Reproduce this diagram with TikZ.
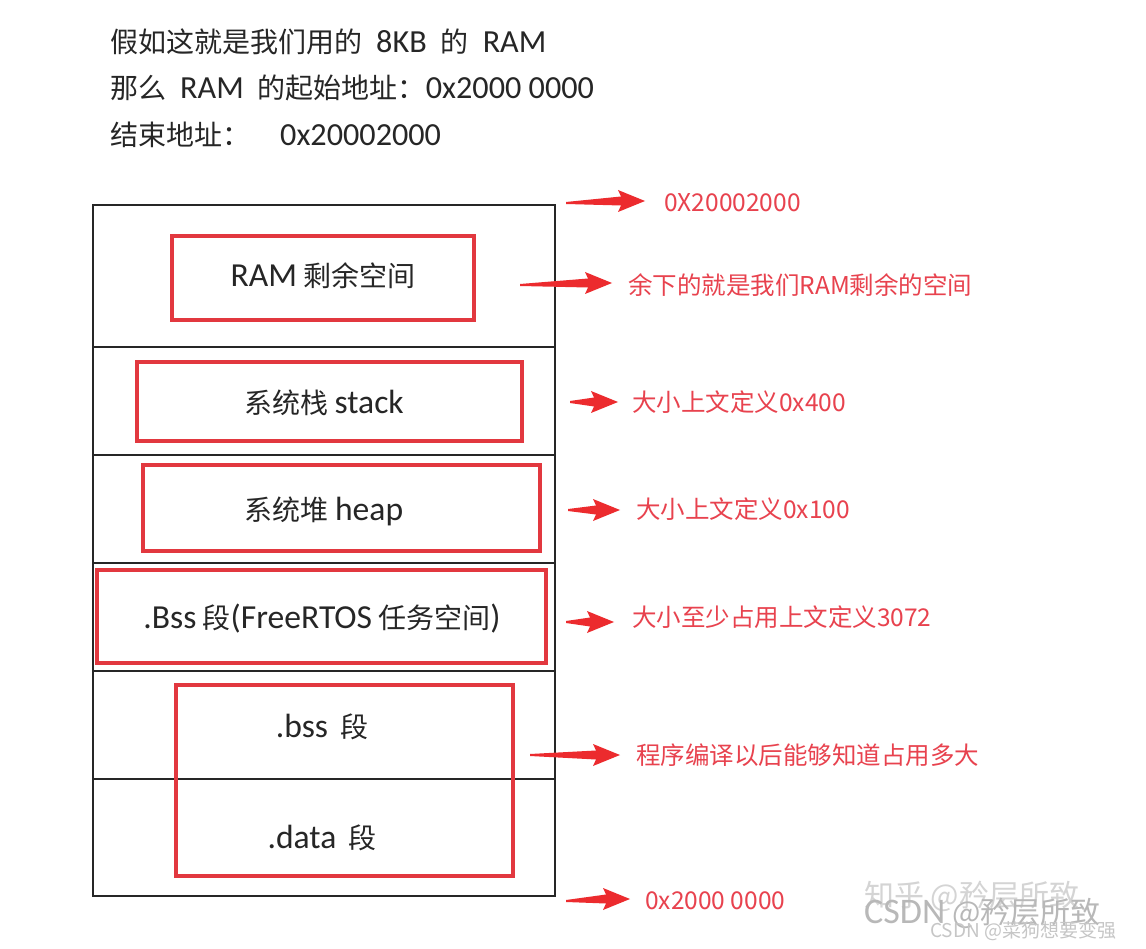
\documentclass[tikz,border=0pt]{standalone}
\usepackage{fontspec}
\setmainfont{Noto Sans CJK SC}
\newfontfamily\lat{Carlito}[Scale=1.2]
\newfontfamily\lathead{Carlito}[Scale=1.15]
\usetikzlibrary{calc,positioning}
\definecolor{memRed}{HTML}{E2383F}
\definecolor{noteRed}{HTML}{E8424E}
\definecolor{arrowRed}{HTML}{EC2B2E}
\definecolor{textMain}{HTML}{262626}
\definecolor{markGray}{HTML}{B8B8B8}

% tapered red arrow from #1 to #2
\newcommand{\redarrow}[2]{%
  \fill[arrowRed] ($(#1)+(0,-1)$) -- ($(#2)+(-24,-4.5)$) -- ($(#2)+(-27,-11)$) -- (#2)
    -- ($(#2)+(-27,11)$) -- ($(#2)+(-24,4.5)$) -- ($(#1)+(0,1)$) -- cycle;}

\begin{document}
\begin{tikzpicture}[x=1pt, y=-1pt,
    region/.style={draw=memRed, line width=4pt, inner sep=0pt},
    boxtext/.style={text=textMain, font=\fontsize{28}{30}\selectfont, inner sep=0pt},
    headline/.style={text=textMain, anchor=west, font=\fontsize{28}{30}\selectfont, inner sep=0pt},
    note/.style={text=noteRed, anchor=west, font=\fontsize{24.5}{26}\selectfont, inner sep=0pt},
    frame/.style={draw=black!85, line width=1.3pt},
]
    \useasboundingbox[fill=white] (0,0) rectangle (1146,949);

    % heading
    \node[headline] (h1) at (110,42) {假如这就是我们用的\hspace{14pt}{\lathead 8KB}\hspace{14pt}的\hspace{14pt}{\lathead RAM}};
    \node[headline] (h2) at (110,88) {那么\hspace{14pt}{\lathead RAM}\hspace{14pt}的起始地址：{\lathead 0x2000 0000}};
    \node[headline] (h3) at (110,135) {结束地址：\hspace{30pt}{\lathead 0x20002000}};

    % memory map
    \draw[frame] (93,205) rectangle (555,896);
    \foreach \y in {347,455,563,671,779}
        \draw[frame] (93,\y) -- (555,\y);

    \node[region, minimum width=302pt, minimum height=84pt] (remain) at (323,278) {};
    \node[region, minimum width=385pt, minimum height=79pt] (stack) at (329.5,401.5) {};
    \node[region, minimum width=397pt, minimum height=86pt] (heap) at (341.5,508) {};
    \node[region, minimum width=449pt, minimum height=93pt] (rtos) at (321.5,616.5) {};
    \node[region, minimum width=337pt, minimum height=191pt] (bssdata) at (344.5,780.5) {};

    \node[boxtext] (remaintxt) at (323,276) {{\lat RAM} 剩余空间};
    \node[boxtext] (stacktxt) at (324,403) {系统栈 {\lat stack}};
    \node[boxtext] (heaptxt) at (324,511) {系统堆 {\lat heap}};
    \node[boxtext] (rtostxt) at (322,619) {{\lat .Bss} 段{\lat (FreeRTOS} 任务空间{\lat )}};
    \node[boxtext] (bsstxt) at (322,727) {{\lat .bss}\hspace{12pt}段};
    \node[boxtext] (datatxt) at (322,838) {{\lat .data}\hspace{12pt}段};

    % notes
    \node[note] (endaddr) at (664,203) {0X20002000};
    \node[note] (n1) at (628,285) {余下的就是我们RAM剩余的空间};
    \node[note] (n2) at (632,402) {大小上文定义0x400};
    \node[note] (n3) at (636,509) {大小上文定义0x100};
    \node[note] (n4) at (632,617) {大小至少占用上文定义3072};
    \node[note] (n5) at (636,755) {程序编译以后能够知道占用多大};
    \node[note] (startaddr) at (645,901) {0x2000 0000};

    \coordinate (t0) at (566,203);
    \coordinate (t1) at (520,285);
    \coordinate (t2) at (570,402);
    \coordinate (t3) at (568,510);
    \coordinate (t4) at (566,622);
    \coordinate (t5) at (530,755);
    \coordinate (t6) at (566,901);

    \redarrow{t0}{$(endaddr.west)+(-19,-2)$}
    \redarrow{t1}{$(n1.west)+(-16,-2)$}
    \redarrow{t2}{$(n2.west)+(-14,0)$}
    \redarrow{t3}{$(n3.west)+(-16,1)$}
    \redarrow{t4}{$(n4.west)+(-18,5)$}
    \redarrow{t5}{$(n5.west)+(-16,0)$}
    \redarrow{t6}{$(startaddr.west)+(-15,-2)$}

    % watermarks
    \node[text=markGray!60, font=\fontsize{30}{32}\selectfont, anchor=west, inner sep=0pt] (zhihu) at (864,896) {知乎 @矜层所致};
    \node[text=markGray, font=\fontsize{30}{32}\selectfont, anchor=west, inner sep=0pt] (csdn) at (864,913) {{\lat CSDN} @矜层所致};
    \node[text=markGray!80, font=\fontsize{19}{21}\selectfont, anchor=west, inner sep=0pt] (csdn2) at (930,931) {CSDN @菜狗想要变强};
\end{tikzpicture}
\end{document}
